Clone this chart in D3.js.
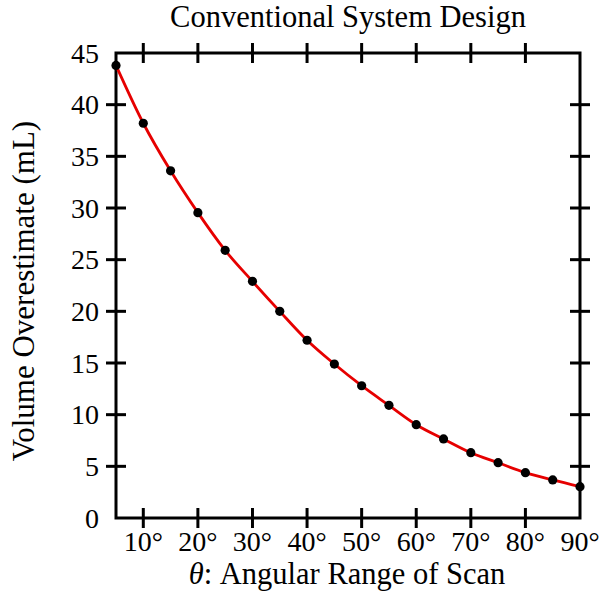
<!DOCTYPE html>
<html><head><meta charset="utf-8">
<script src="https://cdn.jsdelivr.net/npm/d3@7/dist/d3.min.js"></script>
<style>body{margin:0;background:#fff}svg{display:block}text{font-family:"Liberation Serif","Times New Roman",serif;fill:#000}</style>
</head><body>
<svg id="c" width="601" height="594"></svg>
<script>
const angles = [5,10,15,20,25,30,35,40,45,50,55,60,65,70,75,80,85,90];
const overestimate = [43.8,38.2,33.6,29.55,25.9,22.9,20.0,17.2,14.9,12.8,10.9,9.03,7.65,6.32,5.35,4.39,3.68,3.03];
const xTicks = [10,20,30,40,50,60,70,80,90];
const yTicks = [0,5,10,15,20,25,30,35,40,45];
const title = "Conventional System Design";
const yTitle = "Volume Overestimate (mL)";

const svg = d3.select("#c");
const L=116, R=580, T=53, B=518;
const x = d3.scaleLinear().domain([5,90]).range([L,R]);
const y = d3.scaleLinear().domain([0,45]).range([B,T]);

const innerX = xTicks.filter(d=>d<90);
const innerY = yTicks.filter(d=>d>0 && d<45);
const tk = 10;
const g = svg.append("g").attr("stroke","#000").attr("stroke-width",3);
innerX.forEach(d=>{
  g.append("line").attr("x1",x(d)).attr("x2",x(d)).attr("y1",B-tk).attr("y2",B+tk);
  g.append("line").attr("x1",x(d)).attr("x2",x(d)).attr("y1",T-tk).attr("y2",T+tk);
});
innerY.forEach(d=>{
  g.append("line").attr("y1",y(d)).attr("y2",y(d)).attr("x1",L-tk).attr("x2",L+tk);
  g.append("line").attr("y1",y(d)).attr("y2",y(d)).attr("x1",R-tk).attr("x2",R+tk);
});
svg.append("rect").attr("x",L).attr("y",T).attr("width",R-L).attr("height",B-T)
  .attr("fill","none").attr("stroke","#000").attr("stroke-width",3);

const pts = angles.map((a,i)=>[a,overestimate[i]]);
svg.append("path").datum(pts)
  .attr("d",d3.line().x(d=>x(d[0])).y(d=>y(d[1])).curve(d3.curveMonotoneX))
  .attr("fill","none").attr("stroke","#e60000").attr("stroke-width",2.8);
svg.append("g").selectAll("circle").data(pts).join("circle")
  .attr("cx",d=>x(d[0])).attr("cy",d=>y(d[1])).attr("r",4.6).attr("fill","#000");

svg.append("g").selectAll("text").data(xTicks).join("text")
  .attr("x",d=>x(d)).attr("y",551).attr("text-anchor","middle")
  .attr("font-size",28).text(d=>d+"°");
svg.append("g").selectAll("text").data(yTicks).join("text")
  .attr("x",99).attr("y",d=>y(d)+9.5).attr("text-anchor","end")
  .attr("font-size",28).text(d=>d);

svg.append("text").attr("x",(L+R)/2).attr("y",27).attr("text-anchor","middle")
  .attr("font-size",30.5).text(title);
const xt = svg.append("text").attr("x",347).attr("y",584).attr("text-anchor","middle").attr("font-size",30.5);
xt.append("tspan").attr("font-style","italic").text("θ");
xt.append("tspan").text(": Angular Range of Scan");
svg.append("text").attr("transform","translate(34,291) rotate(-90)").attr("text-anchor","middle")
  .attr("font-size",31).text(yTitle);
</script>
</body></html>
